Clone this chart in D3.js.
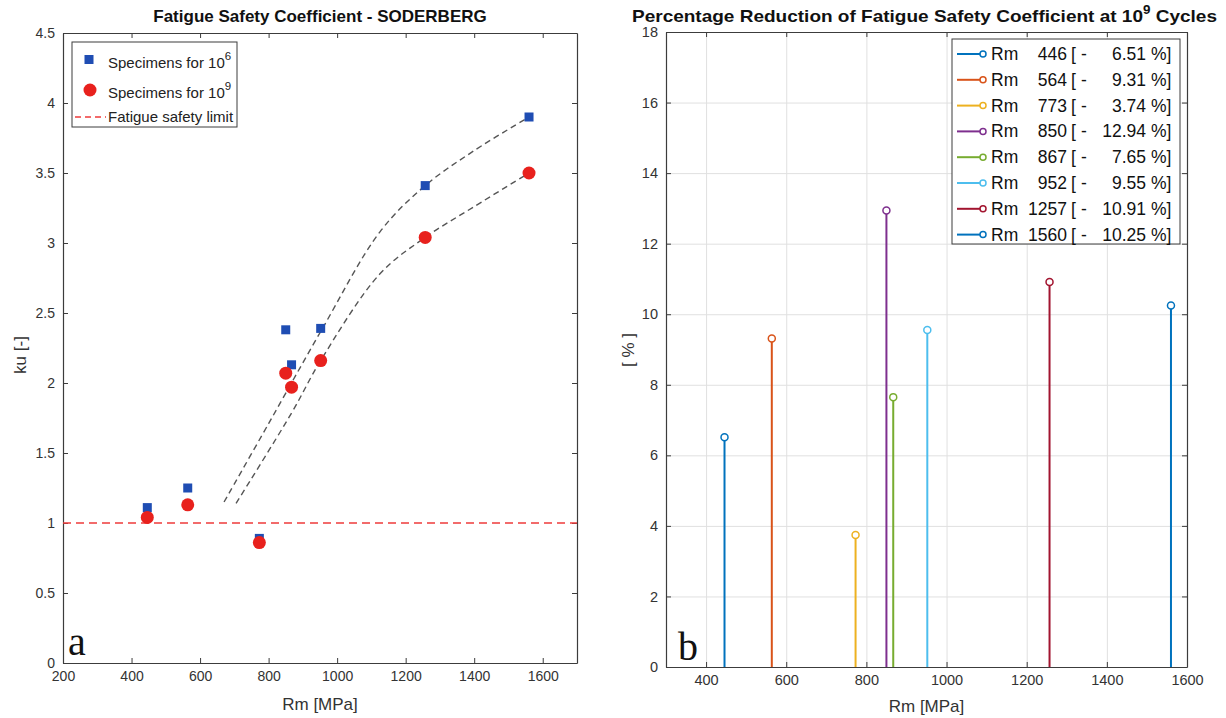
<!DOCTYPE html>
<html>
<head>
<meta charset="utf-8">
<script src="https://cdn.jsdelivr.net/npm/d3@7"></script>
<style>
  body { margin: 0; background: #fff; }
  text { font-family: "Liberation Sans", Arial, Helvetica, sans-serif; }
</style>
</head>
<body>
<div id="chart"></div>
<script>

// measured specimens
var rm = [446, 564, 773, 850, 867, 952, 1257, 1560]
var ku6 = [1.11, 1.25, 0.89, 2.38, 2.13, 2.39, 3.41, 3.90]
var ku9 = [1.04, 1.13, 0.86, 2.07, 1.97, 2.16, 3.04, 3.50]
var reductionPct = [6.51, 9.31, 3.74, 12.94, 7.65, 9.55, 10.91, 10.25]

// trend lines drawn by hand in the original
var fitRm6 = [670, 800, 955, 1125, 1257, 1400, 1560]
var fitKu6 = [1.15, 1.71, 2.38, 3.08, 3.41, 3.66, 3.90]
var fitRm9 = [705, 868, 952, 1125, 1257, 1400, 1560]
var fitKu9 = [1.14, 1.79, 2.16, 2.78, 3.04, 3.26, 3.50]

var safetyLimit = 1.0

var leftXTicks = [200, 400, 600, 800, 1000, 1200, 1400, 1600]
var leftYTicks = [0, 0.5, 1, 1.5, 2, 2.5, 3, 3.5, 4, 4.5]
var rightXTicks = [400, 600, 800, 1000, 1200, 1400, 1600]
var rightYTicks = [0, 2, 4, 6, 8, 10, 12, 14, 16, 18]

var stemColors = ["#0072BD", "#D95319", "#EDB120", "#7E2F8E", "#77AC30", "#4DBEEE", "#A2142F", "#0072BD"]

var width = 1226
var height = 718
var svg = d3.select("#chart")
  .append("svg")
  .attr("width", width)
  .attr("height", height)

var axisColor = "#3c3c3c"
var labelColor = "#333"

function fmt(d) { return String(d) }

function drawFrame(g, x, y, xTicks, yTicks, fs) {
  var w = x.range()[1] - x.range()[0]
  var h = y.range()[0] - y.range()[1]
  var frame = g.append("g").attr("class", "frame")

  frame.append("g")
    .attr("transform", "translate(0," + h + ")")
    .call(d3.axisBottom(x).tickValues(xTicks).tickFormat(fmt).tickSizeInner(-5).tickSizeOuter(0).tickPadding(8))
  frame.append("g")
    .call(d3.axisTop(x).tickValues(xTicks).tickFormat("").tickSizeInner(-5).tickSizeOuter(0))
  frame.append("g")
    .call(d3.axisLeft(y).tickValues(yTicks).tickFormat(fmt).tickSizeInner(-5).tickSizeOuter(0).tickPadding(8))
  frame.append("g")
    .attr("transform", "translate(" + w + ",0)")
    .call(d3.axisRight(y).tickValues(yTicks).tickFormat("").tickSizeInner(-5).tickSizeOuter(0))

  frame.selectAll(".domain").attr("stroke", axisColor).attr("stroke-width", 1.2)
  frame.selectAll(".tick line").attr("stroke", axisColor)
  frame.selectAll(".tick text")
    .attr("fill", labelColor)
    .style("font-size", fs + "px")
    .style("font-family", "'Liberation Sans', Arial, sans-serif")
}

// ---------- left panel ----------
var L = { left: 63, top: 33, right: 577, bottom: 663 }
var gL = svg.append("g").attr("transform", "translate(" + L.left + "," + L.top + ")")
var xL = d3.scaleLinear().domain([200, 1700]).range([0, L.right - L.left])
var yL = d3.scaleLinear().domain([0, 4.5]).range([L.bottom - L.top, 0])

drawFrame(gL, xL, yL, leftXTicks, leftYTicks, 14)

gL.append("line")
  .attr("x1", 0).attr("x2", xL.range()[1])
  .attr("y1", yL(safetyLimit)).attr("y2", yL(safetyLimit))
  .attr("stroke", "#ee3b3b")
  .attr("stroke-width", 1.5)
  .attr("stroke-dasharray", "8,5")

var fitLine = d3.line()
  .x(function(d) { return xL(d[0]) })
  .y(function(d) { return yL(d[1]) })
  .curve(d3.curveCatmullRom.alpha(0.5))

gL.append("path")
  .datum(d3.zip(fitRm6, fitKu6))
  .attr("fill", "none")
  .attr("stroke", "#555")
  .attr("stroke-width", 1.4)
  .attr("stroke-dasharray", "6,4")
  .attr("d", fitLine)

gL.append("path")
  .datum(d3.zip(fitRm9, fitKu9))
  .attr("fill", "none")
  .attr("stroke", "#555")
  .attr("stroke-width", 1.4)
  .attr("stroke-dasharray", "6,4")
  .attr("d", fitLine)

gL.selectAll("rect.sq")
  .data(d3.zip(rm, ku6))
  .enter().append("rect")
    .attr("class", "sq")
    .attr("x", function(d) { return xL(d[0]) - 4.5 })
    .attr("y", function(d) { return yL(d[1]) - 4.5 })
    .attr("width", 9)
    .attr("height", 9)
    .attr("fill", "#1f4db3")

gL.selectAll("circle.ci")
  .data(d3.zip(rm, ku9))
  .enter().append("circle")
    .attr("class", "ci")
    .attr("cx", function(d) { return xL(d[0]) })
    .attr("cy", function(d) { return yL(d[1]) })
    .attr("r", 6.5)
    .attr("fill", "#e8211d")

// legend
var legL = gL.append("g").attr("transform", "translate(9,9)")
legL.append("rect")
  .attr("width", 165).attr("height", 85)
  .attr("fill", "#fff").attr("stroke", axisColor).attr("stroke-width", 1)
legL.append("rect").attr("x", 12.5).attr("y", 13).attr("width", 9).attr("height", 9).attr("fill", "#1f4db3")
legL.append("circle").attr("cx", 18).attr("cy", 48).attr("r", 6.5).attr("fill", "#e8211d")
legL.append("line")
  .attr("x1", 3).attr("x2", 34).attr("y1", 75).attr("y2", 75)
  .attr("stroke", "#ee3b3b").attr("stroke-width", 1.5).attr("stroke-dasharray", "6,4")

var legTxt = [["Specimens for 10", "6", 26], ["Specimens for 10", "9", 56], ["Fatigue safety limit", "", 80]]
legTxt.forEach(function(t) {
  var tx = legL.append("text")
    .attr("x", 36).attr("y", t[2])
    .attr("fill", "#222")
    .style("font-size", "15px")
    .text(t[0])
  if (t[1]) {
    tx.append("tspan").attr("dy", -8).style("font-size", "11.5px").text(t[1])
  }
})

svg.append("text")
  .attr("x", (L.left + L.right) / 2).attr("y", 22)
  .attr("text-anchor", "middle")
  .style("font-size", "17px").style("font-weight", "bold")
  .attr("fill", "#111")
  .text("Fatigue Safety Coefficient - SODERBERG")

svg.append("text")
  .attr("x", (L.left + L.right) / 2).attr("y", 710)
  .attr("text-anchor", "middle")
  .style("font-size", "17px")
  .attr("fill", labelColor)
  .text("Rm [MPa]")

svg.append("text")
  .attr("transform", "translate(26,355) rotate(-90)")
  .attr("text-anchor", "middle")
  .style("font-size", "17px")
  .attr("fill", labelColor)
  .text("ku [-]")

svg.append("text")
  .attr("x", 68).attr("y", 655)
  .style("font-family", "'Liberation Serif', 'Times New Roman', serif")
  .style("font-size", "40px")
  .attr("fill", "#111")
  .text("a")

// ---------- right panel ----------
var R = { left: 666, top: 32, right: 1187, bottom: 667 }
var gR = svg.append("g").attr("transform", "translate(" + R.left + "," + R.top + ")")
var xR = d3.scaleLinear().domain([300, 1600]).range([0, R.right - R.left])
var yR = d3.scaleLinear().domain([0, 18]).range([R.bottom - R.top, 0])
var hR = R.bottom - R.top
var wR = R.right - R.left

var grid = gR.append("g").attr("class", "grid")
grid.append("g")
  .attr("transform", "translate(0," + hR + ")")
  .call(d3.axisBottom(xR).tickValues(rightXTicks).tickFormat("").tickSize(-hR))
grid.append("g")
  .call(d3.axisLeft(yR).tickValues(rightYTicks).tickFormat("").tickSize(-wR))
grid.selectAll(".domain").remove()
grid.selectAll("line").attr("stroke", "#e0e0e0")

drawFrame(gR, xR, yR, rightXTicks, rightYTicks, 14.5)

var stems = gR.selectAll("g.stem")
  .data(d3.range(rm.length))
  .enter().append("g")
    .attr("class", "stem")

stems.append("line")
  .attr("x1", function(i) { return xR(rm[i]) })
  .attr("x2", function(i) { return xR(rm[i]) })
  .attr("y1", yR(0))
  .attr("y2", function(i) { return yR(reductionPct[i]) })
  .attr("stroke", function(i) { return stemColors[i] })
  .attr("stroke-width", 2)

stems.append("circle")
  .attr("cx", function(i) { return xR(rm[i]) })
  .attr("cy", function(i) { return yR(reductionPct[i]) })
  .attr("r", 3.5)
  .attr("fill", "#fff")
  .attr("stroke", function(i) { return stemColors[i] })
  .attr("stroke-width", 1.5)

// legend
var legR = svg.append("g").attr("transform", "translate(952,39)")
legR.append("rect")
  .attr("width", 228).attr("height", 205)
  .attr("fill", "#fff").attr("stroke", axisColor).attr("stroke-width", 1)

var rows = legR.selectAll("g.row")
  .data(d3.range(rm.length))
  .enter().append("g")
    .attr("class", "row")
    .attr("transform", function(i) { return "translate(0," + (15 + i * 25.8) + ")" })

rows.append("line")
  .attr("x1", 5).attr("x2", 31).attr("y1", 0).attr("y2", 0)
  .attr("stroke", function(i) { return stemColors[i] }).attr("stroke-width", 2)
rows.append("circle")
  .attr("cx", 31).attr("cy", 0).attr("r", 3)
  .attr("fill", "#fff")
  .attr("stroke", function(i) { return stemColors[i] }).attr("stroke-width", 1.5)

function rowText(sel, x, anchor, fn) {
  sel.append("text")
    .attr("x", x).attr("y", 6)
    .attr("text-anchor", anchor)
    .attr("fill", "#111")
    .style("font-size", "17.5px")
    .text(fn)
}
rowText(rows, 39, "start", function() { return "Rm" })
rowText(rows, 115, "end", function(i) { return rm[i] })
rowText(rows, 119, "start", function() { return "[" })
rowText(rows, 129, "start", function() { return "-" })
rowText(rows, 194, "end", function(i) { return reductionPct[i].toFixed(2) })
rowText(rows, 199, "start", function() { return "%]" })

var tR = svg.append("text")
  .attr("x", 632).attr("y", 22)
  .attr("textLength", 585)
  .attr("lengthAdjust", "spacingAndGlyphs")
  .style("font-size", "17px").style("font-weight", "bold")
  .attr("fill", "#111")
  .text("Percentage Reduction of Fatigue Safety Coefficient at 10")
tR.append("tspan").attr("dy", -8).style("font-size", "12px").text("9")
tR.append("tspan").attr("dy", 8).text(" Cycles")

svg.append("text")
  .attr("x", (R.left + R.right) / 2).attr("y", 712)
  .attr("text-anchor", "middle")
  .style("font-size", "17px")
  .attr("fill", labelColor)
  .text("Rm [MPa]")

svg.append("text")
  .attr("transform", "translate(634,350) rotate(-90)")
  .attr("text-anchor", "middle")
  .style("font-size", "17px")
  .attr("fill", labelColor)
  .text("[ % ]")

svg.append("text")
  .attr("x", 678).attr("y", 660)
  .style("font-family", "'Liberation Serif', 'Times New Roman', serif")
  .style("font-size", "40px")
  .attr("fill", "#111")
  .text("b")

</script>
</body>
</html>
